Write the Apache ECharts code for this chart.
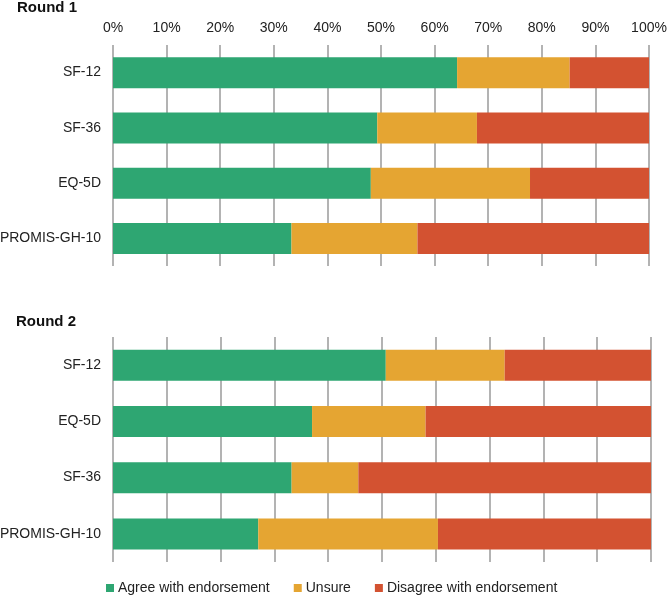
<!DOCTYPE html>
<html>
<head>
<meta charset="utf-8">
<script src="https://cdn.jsdelivr.net/npm/echarts@6/dist/echarts.min.js"></script>
<style>
html,body{margin:0;padding:0;background:#fff;}
#main{width:667px;height:597px;}
</style>
</head>
<body>
<div id="main"></div>
<script>
var seriesNames = ['Agree with endorsement', 'Unsure', 'Disagree with endorsement'];
var colors = ['#2EA672', '#E5A532', '#D35231'];

var round1Categories = ['SF-12', 'SF-36', 'EQ-5D', 'PROMIS-GH-10'];
var round1Agree = [64.2, 49.3, 48.1, 33.3];
var round1Unsure = [21.0, 18.6, 29.7, 23.5];
var round1Disagree = [14.8, 32.1, 22.2, 43.2];

var round2Categories = ['SF-12', 'EQ-5D', 'SF-36', 'PROMIS-GH-10'];
var round2Agree = [50.7, 37.0, 33.2, 27.0];
var round2Unsure = [22.1, 21.1, 12.4, 33.4];
var round2Disagree = [27.2, 41.9, 54.4, 39.6];

var tickValues = [0, 10, 20, 30, 40, 50, 60, 70, 80, 90, 100];

var font = 'Liberation Sans, Arial, sans-serif';
var chart = echarts.init(document.getElementById('main'));

function xAxis(gridIndex, showLabels) {
  return {
    type: 'value', gridIndex: gridIndex, min: 0, max: 100, interval: 10,
    position: 'top',
    axisLine: {show: false}, axisTick: {show: false},
    axisLabel: {show: showLabels, formatter: '{value}%', color: '#222', fontSize: 14, fontFamily: font, margin: 10},
    splitLine: {show: true, lineStyle: {color: '#9a9a9a', width: 1.5}}
  };
}
function yAxis(gridIndex, cats) {
  return {
    type: 'category', gridIndex: gridIndex, data: cats, inverse: true,
    axisLine: {show: false}, axisTick: {show: false},
    axisLabel: {color: '#222', fontSize: 14, fontFamily: font, margin: 12},
    splitLine: {show: false}
  };
}
function series(name, data, idx, color) {
  return {
    name: name, type: 'bar', stack: 'r' + idx, xAxisIndex: idx, yAxisIndex: idx,
    data: data, barWidth: 31, itemStyle: {color: color}
  };
}

chart.setOption({
  animation: false,
  color: colors,
  title: [
    {text: 'Round 1', left: 12, top: -5, textStyle: {fontSize: 15, fontWeight: 'bold', color: '#111', fontFamily: font}},
    {text: 'Round 2', left: 11, top: 309, textStyle: {fontSize: 15, fontWeight: 'bold', color: '#111', fontFamily: font}}
  ],
  legend: {
    bottom: -3, left: 101, icon: 'rect', itemWidth: 8, itemHeight: 8, itemGap: 24,
    textStyle: {fontSize: 14, color: '#222', fontFamily: font, padding: [0, 0, 0, -1]},
    data: seriesNames
  },
  grid: [
    {left: 113, right: 18, top: 45, height: 221, containLabel: false, outerBoundsMode: 'none'},
    {left: 113, right: 16, top: 337, height: 225, containLabel: false, outerBoundsMode: 'none'}
  ],
  xAxis: [xAxis(0, true), xAxis(1, false)],
  yAxis: [yAxis(0, round1Categories), yAxis(1, round2Categories)],
  series: [
    series(seriesNames[0], round1Agree, 0, colors[0]),
    series(seriesNames[1], round1Unsure, 0, colors[1]),
    series(seriesNames[2], round1Disagree, 0, colors[2]),
    series(seriesNames[0], round2Agree, 1, colors[0]),
    series(seriesNames[1], round2Unsure, 1, colors[1]),
    series(seriesNames[2], round2Disagree, 1, colors[2])
  ]
});
</script>
</body>
</html>
